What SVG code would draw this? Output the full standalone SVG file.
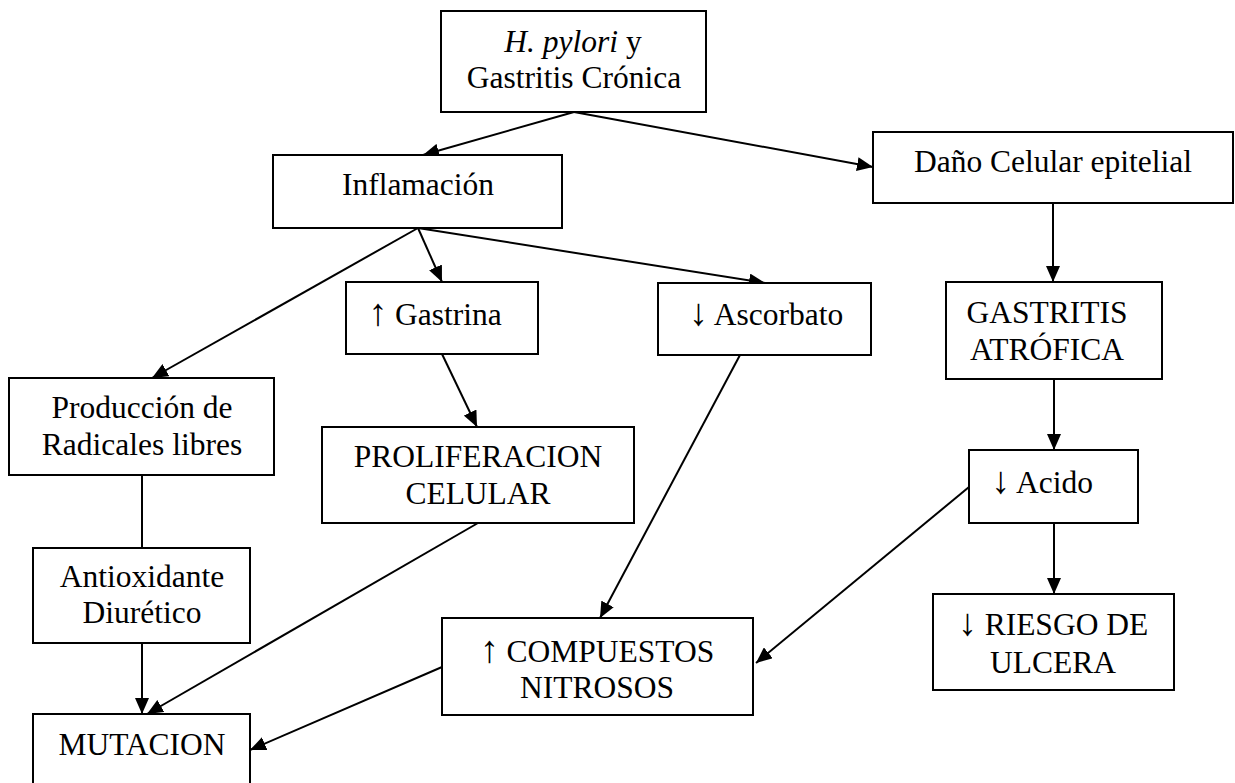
<svg xmlns="http://www.w3.org/2000/svg" width="1235" height="783" viewBox="0 0 1235 783">
<style>
.box{fill:#fff;stroke:#000;stroke-width:2}
.t{font-family:"Liberation Serif","Times New Roman",serif;font-size:31.5px;fill:#000;text-anchor:middle}
.ar{font-size:38px}
.c{stroke:#000;stroke-width:2;fill:none}
.a{marker-end:url(#ah)}
</style>
<defs>
<marker id="ah" markerUnits="userSpaceOnUse" markerWidth="16" markerHeight="14" refX="16" refY="7" orient="auto">
<path d="M0,0 L16,7 L0,14 z" fill="#000"/>
</marker>
</defs>
<rect width="1235" height="783" fill="#fff"/>
<g id="connectors">
<line class="c a" x1="574" y1="112" x2="423" y2="155"/>
<line class="c a" x1="574" y1="112" x2="873" y2="167"/>
<line class="c a" x1="418" y1="228" x2="152" y2="378"/>
<line class="c a" x1="418" y1="228" x2="442" y2="282"/>
<line class="c a" x1="418" y1="228" x2="765" y2="283"/>
<line class="c a" x1="1053" y1="203" x2="1053" y2="282"/>
<line class="c a" x1="1054" y1="379" x2="1054" y2="450"/>
<line class="c a" x1="1054" y1="523" x2="1054" y2="594"/>
<line class="c a" x1="969" y1="487" x2="756" y2="663"/>
<line class="c a" x1="442" y1="354" x2="477" y2="427"/>
<line class="c a" x1="740" y1="355" x2="600" y2="618"/>
<line class="c a" x1="478" y1="523" x2="147" y2="714"/>
<line class="c" x1="142" y1="475" x2="142" y2="548"/>
<line class="c a" x1="142" y1="643" x2="142" y2="714"/>
<line class="c a" x1="442" y1="667" x2="250" y2="750"/>
</g>
<g id="hpylori">
<rect class="box" x="441" y="11" width="265" height="101"/>
<text class="t" x="573" y="52"><tspan font-style="italic">H. pylori</tspan> y</text>
<text class="t" x="574" y="88">Gastritis Crónica</text>
</g>
<g id="inflamacion">
<rect class="box" x="273" y="155" width="289" height="73"/>
<text class="t" x="418" y="195">Inflamación</text>
</g>
<g id="dano">
<rect class="box" x="873" y="132" width="360" height="71"/>
<text class="t" x="1053" y="172">Daño Celular epitelial</text>
</g>
<g id="gastritis-atrofica">
<rect class="box" x="946" y="282" width="216" height="97"/>
<text class="t" x="1047" y="323">GASTRITIS</text>
<text class="t" x="1047" y="360">ATRÓFICA</text>
</g>
<g id="acido">
<rect class="box" x="969" y="450" width="169" height="73"/>
<text class="t" x="1042" y="493"><tspan class="ar">↓</tspan> Acido</text>
</g>
<g id="riesgo">
<rect class="box" x="933" y="594" width="241" height="96"/>
<text class="t" x="1053" y="635"><tspan class="ar">↓</tspan> RIESGO DE</text>
<text class="t" x="1053" y="673">ULCERA</text>
</g>
<g id="gastrina">
<rect class="box" x="346" y="282" width="192" height="72"/>
<text class="t" x="435" y="325"><tspan class="ar">↑</tspan> Gastrina</text>
</g>
<g id="ascorbato">
<rect class="box" x="658" y="283" width="213" height="72"/>
<text class="t" x="766" y="325"><tspan class="ar">↓</tspan> Ascorbato</text>
</g>
<g id="produccion">
<rect class="box" x="9" y="378" width="265" height="97"/>
<text class="t" x="142" y="418">Producción de</text>
<text class="t" x="142" y="455">Radicales libres</text>
</g>
<g id="antioxidante">
<rect class="box" x="33" y="548" width="217" height="95"/>
<text class="t" x="142" y="587">Antioxidante</text>
<text class="t" x="142" y="623">Diurético</text>
</g>
<g id="proliferacion">
<rect class="box" x="322" y="427" width="312" height="96"/>
<text class="t" x="478" y="467">PROLIFERACION</text>
<text class="t" x="478" y="504">CELULAR</text>
</g>
<g id="compuestos">
<rect class="box" x="442" y="618" width="311" height="97"/>
<text class="t" x="597" y="662"><tspan class="ar">↑</tspan> COMPUESTOS</text>
<text class="t" x="597" y="698">NITROSOS</text>
</g>
<g id="mutacion">
<rect class="box" x="33" y="714" width="217" height="80"/>
<text class="t" x="142" y="755">MUTACION</text>
</g>
</svg>
